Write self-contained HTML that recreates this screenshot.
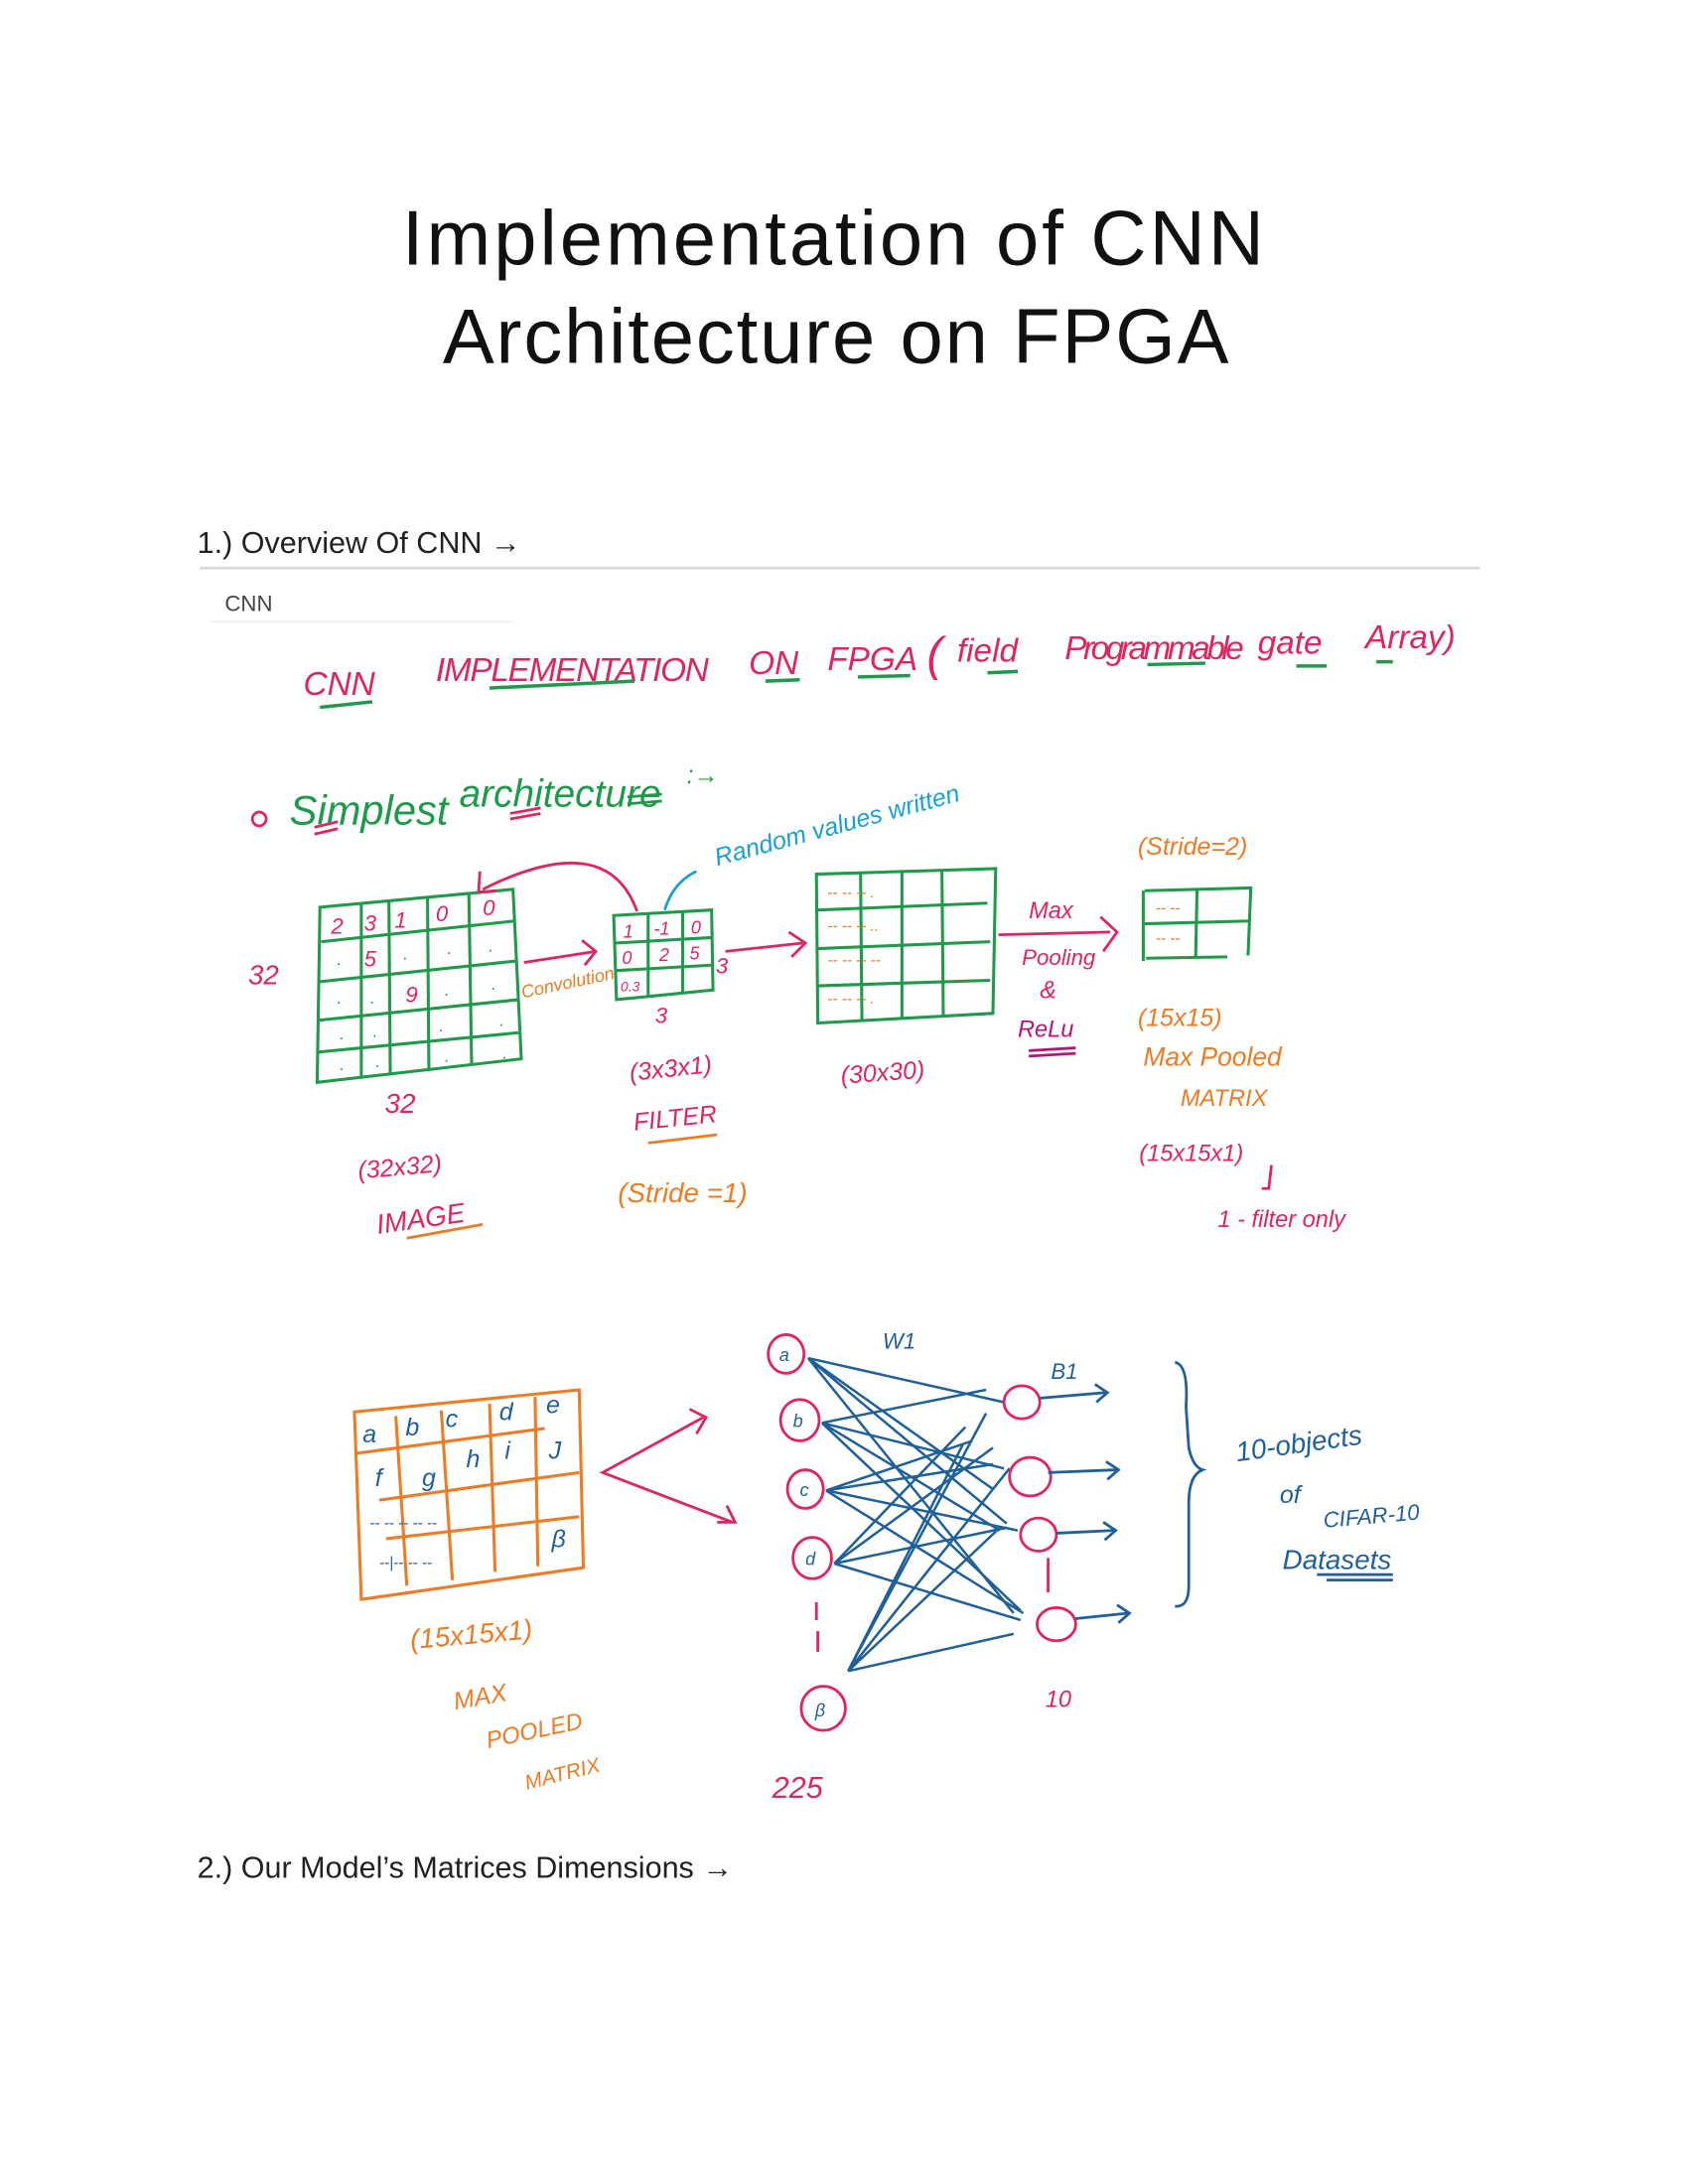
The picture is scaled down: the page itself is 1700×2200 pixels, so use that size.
<!DOCTYPE html>
<html><head><meta charset="utf-8"><style>
html,body{margin:0;padding:0;background:#fff;}
svg{display:block;}
text{font-family:"Liberation Sans",sans-serif;}
</style></head><body>
<svg width="1700" height="2200" viewBox="0 0 1224 1584" xmlns="http://www.w3.org/2000/svg">
<rect width="1224" height="1584" fill="#fff"/>
<text x="604" y="192" font-size="56" text-anchor="middle" fill="#111" textLength="625">Implementation of CNN</text>
<text x="606" y="263" font-size="56" text-anchor="middle" fill="#111" textLength="570">Architecture on FPGA</text>
<text x="143" y="401" font-size="22" fill="#222">1.) Overview Of CNN →</text>
<line x1="145" y1="412" x2="1073" y2="412" stroke="#d8d8d8" stroke-width="2"/>
<text x="163" y="443" font-size="16" fill="#444">CNN</text>
<line x1="153" y1="451" x2="372" y2="451" stroke="#eee" stroke-width="1"/>
<text x="143" y="1362" font-size="22" fill="#222">2.) Our Model’s Matrices Dimensions →</text>

<g font-family="Liberation Sans" font-style="italic">
<g fill="#e0245e" font-size="24">
<text x="220" y="504">CNN</text>
<text x="316" y="494" textLength="198">IMPLEMENTATION</text>
<text x="543" y="489">ON</text>
<text x="600" y="486">FPGA</text>
<text x="672" y="486" font-size="34">(</text>
<text x="694" y="480">field</text>
<text x="772" y="478" textLength="130">Programmable</text>
<text x="912" y="474">gate</text>
<text x="990" y="470">Array)</text>
</g>
<g stroke="#1e9a4a" stroke-width="2.5" fill="none">
<line x1="232" y1="513" x2="270" y2="509"/><line x1="355" y1="499" x2="460" y2="494"/>
<line x1="555" y1="494" x2="580" y2="493"/><line x1="622" y1="491" x2="660" y2="490"/>
<line x1="716" y1="488" x2="738" y2="487"/><line x1="832" y1="482" x2="874" y2="481"/>
<line x1="940" y1="483" x2="962" y2="483"/><line x1="998" y1="480" x2="1010" y2="480"/>
</g>

<circle cx="188" cy="594" r="5" fill="none" stroke="#e0245e" stroke-width="2"/>
<text x="210" y="598" font-size="30" fill="#1e9a4a">Simplest</text>
<text x="333" y="585" font-size="28" fill="#1e9a4a">architecture</text>
<text x="498" y="568" font-size="18" fill="#1e9a4a">:→</text>
<g stroke="#e0245e" stroke-width="2"><line x1="228" y1="600" x2="245" y2="596"/><line x1="228" y1="605" x2="245" y2="601"/><line x1="370" y1="590" x2="392" y2="586"/><line x1="370" y1="594" x2="392" y2="590"/></g>
<g stroke="#1e9a4a" stroke-width="2"><line x1="455" y1="578" x2="480" y2="576"/><line x1="455" y1="583" x2="480" y2="581"/></g>
<text x="520" y="628" font-size="18" fill="#1aa0d0" transform="rotate(-15 520 628)">Random values written</text>
<path d="M482 660 Q488 640 505 632" stroke="#1aa0d0" stroke-width="2" fill="none"/>

<g stroke="#1e9a4a" stroke-width="2.2" fill="none">
<path d="M232 658 L372 645 L378 768 L230 785 Z"/>
<line x1="233" y1="683" x2="373" y2="668"/><line x1="232" y1="712" x2="374" y2="697"/>
<line x1="231" y1="740" x2="376" y2="725"/><line x1="231" y1="763" x2="376" y2="749"/>
<line x1="262" y1="655" x2="262" y2="782"/><line x1="282" y1="653" x2="283" y2="780"/>
<line x1="310" y1="650" x2="311" y2="777"/><line x1="340" y1="648" x2="342" y2="773"/>
</g>
<g fill="#e0245e" font-size="16"><text x="240" y="677">2</text><text x="264" y="675">3</text><text x="286" y="673">1</text><text x="316" y="668">0</text><text x="350" y="664">0</text><text x="264" y="701">5</text><text x="294" y="727">9</text></g>
<g fill="#1e9a4a" font-size="12" font-style="normal"><text x="244" y="700">.</text><text x="292" y="696">.</text><text x="324" y="692">.</text><text x="354" y="690">.</text><text x="244" y="728">.</text><text x="268" y="728">.</text><text x="322" y="722">.</text><text x="356" y="718">.</text><text x="246" y="754">.</text><text x="270" y="752">.</text><text x="318" y="748">.</text><text x="362" y="744">.</text><text x="246" y="776">.</text><text x="272" y="774">.</text><text x="322" y="770">.</text><text x="364" y="768">.</text></g>
<text x="180" y="714" font-size="20" fill="#e0245e">32</text>
<text x="279" y="807" font-size="20" fill="#e0245e">32</text>
<text x="260" y="855" font-size="18" fill="#e0245e" transform="rotate(-5 260 855)">(32x32)</text>
<text x="274" y="895" font-size="20" fill="#e0245e" transform="rotate(-8 274 895)">IMAGE</text>
<line x1="295" y1="898" x2="350" y2="888" stroke="#f07a22" stroke-width="2"/>

<path d="M462 661 Q440 600 350 645" stroke="#e0245e" stroke-width="2" fill="none"/>
<path d="M348 632 L347 647 L360 646" stroke="#e0245e" stroke-width="2" fill="none"/>
<path d="M380 698 L432 690 M422 682 L432 690 L424 700" stroke="#e0245e" stroke-width="2" fill="none"/>
<text x="379" y="724" font-size="13" fill="#f07a22" transform="rotate(-12 379 724)">Convolution</text>

<g stroke="#1e9a4a" stroke-width="2.2" fill="none">
<path d="M445 664 L516 660 L517 718 L447 725 Z"/>
<line x1="446" y1="684" x2="516" y2="680"/><line x1="446" y1="704" x2="516" y2="700"/>
<line x1="470" y1="663" x2="470" y2="723"/><line x1="495" y1="662" x2="495" y2="721"/>
</g>
<g fill="#e0245e" font-size="13"><text x="452" y="680">1</text><text x="474" y="678">-1</text><text x="501" y="677">0</text><text x="451" y="699">0</text><text x="478" y="697">2</text><text x="500" y="696">5</text><text x="450" y="719" font-size="10">0.3</text></g>
<text x="519" y="706" font-size="16" fill="#e0245e">3</text>
<text x="475" y="742" font-size="16" fill="#e0245e">3</text>
<text x="457" y="784" font-size="18" fill="#e0245e" transform="rotate(-6 457 784)">(3x3x1)</text>
<text x="460" y="820" font-size="18" fill="#e0245e" transform="rotate(-6 460 820)">FILTER</text>
<line x1="470" y1="829" x2="520" y2="823" stroke="#f07a22" stroke-width="2"/>
<text x="448" y="872" font-size="20" fill="#f07a22">(Stride =1)</text>
<path d="M526 690 L582 684 M572 676 L584 684 L574 694" stroke="#e0245e" stroke-width="2" fill="none"/>

<g stroke="#1e9a4a" stroke-width="2.2" fill="none">
<path d="M592 634 L722 630 L720 735 L593 742 Z"/>
<line x1="593" y1="660" x2="716" y2="655"/><line x1="593" y1="688" x2="718" y2="683"/>
<line x1="593" y1="715" x2="718" y2="711"/>
<line x1="624" y1="633" x2="625" y2="740"/><line x1="654" y1="632" x2="654" y2="738"/>
<line x1="683" y1="631" x2="684" y2="737"/>
</g>
<g fill="#f07a22" font-size="11"><text x="600" y="651">-- --  --  .</text><text x="600" y="675">-- --  --  ..</text><text x="600" y="700">-- --  --  --</text><text x="600" y="728">-- --  --  .</text></g>
<text x="610" y="786" font-size="18" fill="#e0245e" transform="rotate(-4 610 786)">(30x30)</text>
<text x="746" y="666" font-size="17" fill="#e0245e">Max</text>
<path d="M724 678 L805 676 M798 665 L810 676 L800 690" stroke="#e0245e" stroke-width="2" fill="none"/>
<text x="741" y="700" font-size="16" fill="#e0245e">Pooling</text>
<text x="754" y="724" font-size="18" fill="#e0245e">&amp;</text>
<text x="738" y="752" font-size="17" fill="#b0177a">ReLu</text>
<g stroke="#b0177a" stroke-width="2"><line x1="746" y1="762" x2="780" y2="760"/><line x1="746" y1="766" x2="780" y2="764"/></g>

<text x="825" y="620" font-size="18" fill="#f07a22">(Stride=2)</text>
<g stroke="#1e9a4a" stroke-width="2.2" fill="none">
<path d="M830 646 L907 644 L905 693 M829 697 L829 646 M831 695 L890 694"/>
<line x1="830" y1="670" x2="906" y2="668"/><line x1="868" y1="645" x2="867" y2="694"/>
</g>
<g fill="#f07a22" font-size="11"><text x="838" y="662">--  --</text><text x="838" y="684">--  --</text></g>
<text x="825" y="744" font-size="18" fill="#f07a22">(15x15)</text>
<text x="829" y="773" font-size="19" fill="#f07a22">Max Pooled</text>
<text x="856" y="802" font-size="17" fill="#f07a22">MATRIX</text>
<text x="826" y="842" font-size="17" fill="#e0245e">(15x15x1)</text>
<path d="M922 845 L920 862 L915 862" stroke="#e0245e" stroke-width="2" fill="none"/>
<text x="883" y="890" font-size="17" fill="#e0245e">1 - filter only</text>

<g stroke="#f07a22" stroke-width="2.2" fill="none">
<path d="M257 1024 L420 1008 L423 1137 L262 1160 Z"/>
<line x1="259" y1="1054" x2="395" y2="1036"/><line x1="275" y1="1088" x2="420" y2="1068"/>
<line x1="280" y1="1116" x2="420" y2="1100"/>
<line x1="287" y1="1027" x2="295" y2="1150"/><line x1="320" y1="1023" x2="328" y2="1146"/>
<line x1="355" y1="1018" x2="359" y2="1140"/><line x1="388" y1="1013" x2="390" y2="1136"/>
</g>
<g fill="#1f5f9a" font-size="18"><text x="263" y="1046">a</text><text x="294" y="1041">b</text><text x="323" y="1035">c</text><text x="362" y="1030">d</text><text x="396" y="1025">e</text><text x="272" y="1078">f</text><text x="306" y="1078">g</text><text x="338" y="1064">h</text><text x="366" y="1058">i</text><text x="398" y="1058">J</text><text x="400" y="1122">β</text>
<text x="268" y="1108" font-size="11">-- --  --  --  --</text><text x="275" y="1137" font-size="11">--|--   --  --</text></g>
<text x="298" y="1196" font-size="20" fill="#f07a22" transform="rotate(-5 298 1196)">(15x15x1)</text>
<text x="330" y="1240" font-size="18" fill="#f07a22" transform="rotate(-10 330 1240)">MAX</text>
<text x="354" y="1268" font-size="17" fill="#f07a22" transform="rotate(-12 354 1268)">POOLED</text>
<text x="382" y="1298" font-size="15" fill="#f07a22" transform="rotate(-14 382 1298)">MATRIX</text>
<path d="M510 1028 L437 1068 L531 1104 M500 1022 L512 1028 L505 1040 M520 1104 L533 1104 L527 1092" stroke="#e0245e" stroke-width="2" fill="none"/>

<g stroke="#1f5f9a" stroke-width="1.8" fill="none">
<path d="M586 985 L728 1017 M586 985 L730 1105 M586 985 L735 1170 M586 985 L720 1080"/>
<path d="M596 1032 L715 1008 M596 1032 L728 1065 M596 1032 L740 1168 M596 1032 L725 1110"/>
<path d="M599 1081 L720 1062 M599 1081 L705 1045 M599 1081 L738 1110 M599 1081 L742 1170"/>
<path d="M605 1134 L730 1108 M605 1134 L720 1050 M605 1134 L740 1175 M605 1134 L700 1035"/>
<path d="M615 1212 L735 1185 M615 1212 L725 1108 M615 1212 L732 1065 M615 1212 L715 1025 M615 1212 L698 1048"/>
</g>
<g stroke="#e0245e" stroke-width="2" fill="none">
<ellipse cx="570" cy="982" rx="13" ry="14"/><ellipse cx="580" cy="1030" rx="14" ry="15"/><ellipse cx="584" cy="1080" rx="13" ry="14"/><ellipse cx="589" cy="1130" rx="14" ry="15"/><ellipse cx="597" cy="1239" rx="16" ry="16"/>
<ellipse cx="741" cy="1017" rx="13" ry="12"/><ellipse cx="747" cy="1071" rx="15" ry="14"/><ellipse cx="753" cy="1113" rx="13" ry="12"/><ellipse cx="766" cy="1178" rx="14" ry="12"/>
<line x1="592" y1="1162" x2="592" y2="1175"/><line x1="593" y1="1183" x2="593" y2="1198"/><line x1="760" y1="1130" x2="760" y2="1155"/>
</g>
<g fill="#1f5f9a" font-size="13"><text x="565" y="987">a</text><text x="575" y="1035">b</text><text x="580" y="1085">c</text><text x="584" y="1135">d</text><text x="591" y="1245">β</text></g>
<g stroke="#1f5f9a" stroke-width="2" fill="none">
<path d="M754 1014 L802 1010 M794 1004 L803 1010 L795 1017"/>
<path d="M760 1068 L810 1066 M802 1060 L811 1066 L803 1073"/>
<path d="M766 1112 L808 1110 M800 1104 L809 1110 L801 1117"/>
<path d="M780 1174 L818 1170 M810 1164 L819 1170 L811 1177"/>
<path d="M852 988 Q862 990 860 1020 L862 1050 Q865 1064 872 1066 Q862 1070 862 1090 L862 1150 Q862 1166 852 1165"/>
</g>
<text x="640" y="978" font-size="16" fill="#1f5f9a">W1</text>
<text x="762" y="1000" font-size="16" fill="#1f5f9a">B1</text>
<text x="758" y="1238" font-size="17" fill="#e0245e">10</text>
<text x="560" y="1304" font-size="22" fill="#e0245e">225</text>
<text x="897" y="1060" font-size="20" fill="#1f5f9a" transform="rotate(-8 897 1060)">10-objects</text>
<text x="928" y="1090" font-size="18" fill="#1f5f9a">of</text>
<text x="960" y="1108" font-size="16" fill="#1f5f9a" transform="rotate(-5 960 1108)">CIFAR-10</text>
<text x="930" y="1138" font-size="20" fill="#1f5f9a">Datasets</text>
<g stroke="#1f5f9a" stroke-width="2"><line x1="955" y1="1142" x2="1010" y2="1142"/><line x1="962" y1="1146" x2="1010" y2="1146"/></g>
</g>
</svg>
</body></html>
